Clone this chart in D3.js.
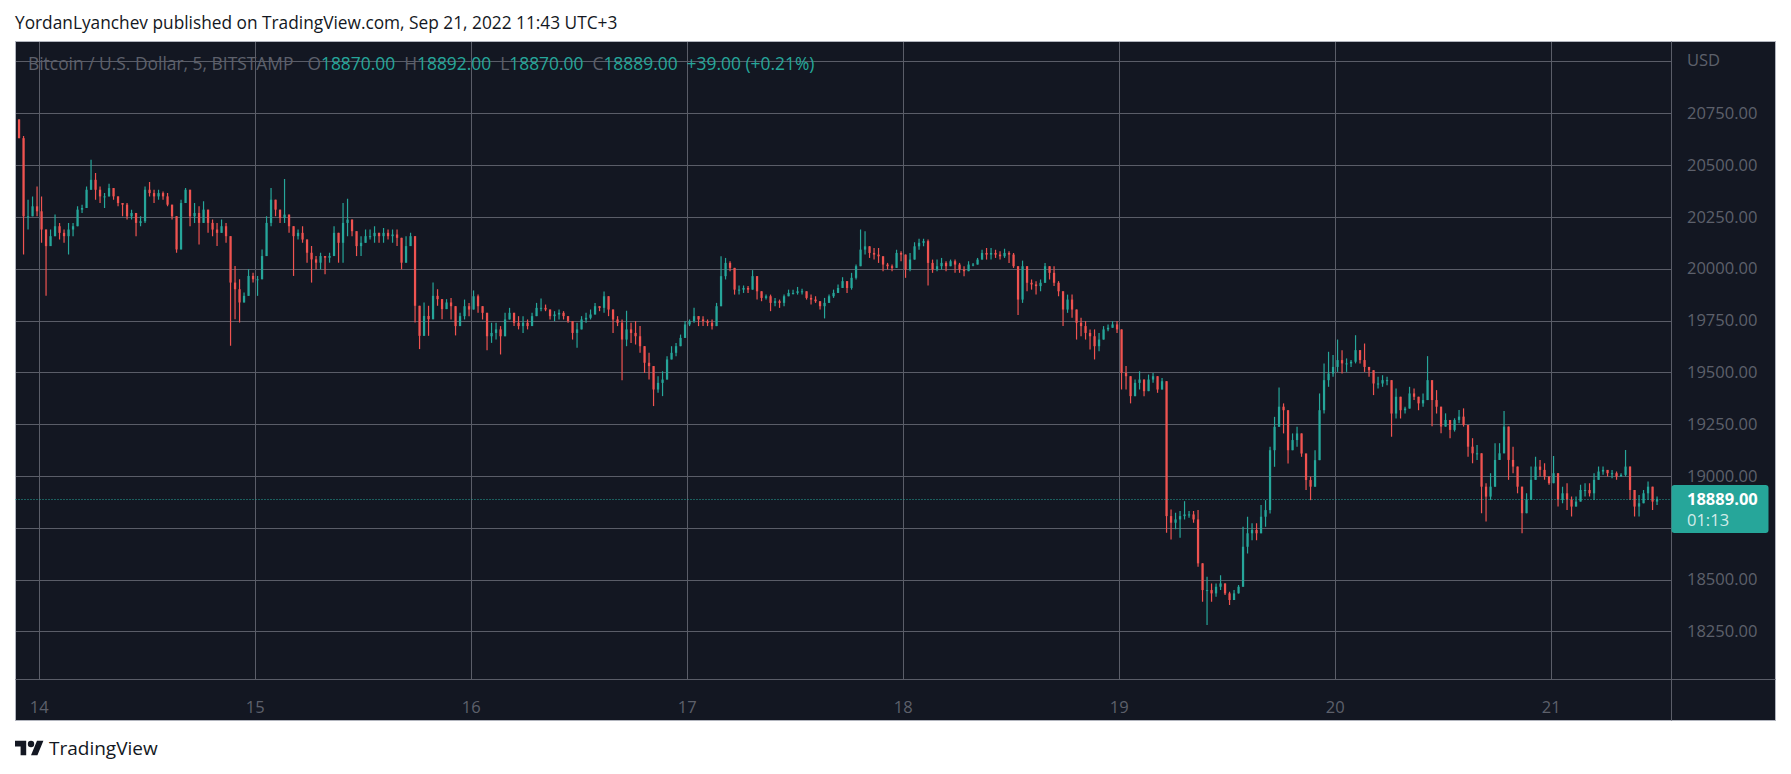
<!DOCTYPE html>
<html>
<head>
  <meta charset="utf-8">
  <title>Bitcoin / U.S. Dollar, 5, BITSTAMP</title>
  <script src="https://d3js.org/d3.v7.min.js"></script>
  <style>
    body {
      margin: 0;
      background: #ffffff;
    }
    text {
      font-family: "Open Sans", "DejaVu Sans", sans-serif;
    }
  </style>
</head>
<body>

<svg id="chart" width="1791" height="774"></svg>

<script>
  const firstOpen = 20720;

  const highs = [
    20721,20640,20333,20349,20397,20349,20173,20189,20261,20221,20189,20221,20221,20301,20309,20397,20526,20462,20397,20365,
    20410,20389,20349,20317,20317,20285,20253,20253,20397,20418,20381,20381,20373,20365,20309,20253,20333,20389,20381,20317,
    20301,20325,20269,20237,20221,20237,20221,20157,20013,19949,19885,19997,19981,19965,20093,20253,20389,20317,20285,20433,
    20253,20189,20189,20205,20125,20109,20061,20077,20061,20077,20205,20173,20317,20337,20237,20173,20157,20189,20189,20205,
    20173,20197,20189,20189,20189,20093,20157,20173,20093,19772,19837,19821,19933,19901,19837,19853,19859,19787,19787,19851,
    19835,19895,19875,19819,19755,19739,19739,19723,19787,19811,19771,19771,19771,19755,19787,19835,19856,19827,19803,19795,
    19803,19795,19771,19739,19739,19771,19787,19803,19835,19819,19890,19851,19787,19771,19755,19797,19739,19747,19723,19610,
    19594,19497,19481,19505,19578,19626,19642,19682,19747,19755,19811,19771,19771,19755,19755,19835,20060,20052,20036,19964,
    19919,19919,19916,19993,19964,19883,19875,19875,19859,19851,19875,19899,19899,19912,19903,19891,19875,19867,19843,19859,
    19875,19899,19924,19959,19940,19980,20020,20189,20181,20108,20100,20100,20052,20028,20020,20092,20084,20060,20076,20128,
    20144,20144,20141,20044,20044,20052,20036,20044,20044,20028,20012,20036,20028,20052,20092,20100,20100,20092,20084,20096,
    20084,20076,20012,20039,19996,19948,19940,19948,20028,20012,20012,19940,19867,19875,19875,19787,19763,19747,19707,19707,
    19690,19723,19731,19747,19747,19610,19530,19457,19465,19505,19449,19489,19497,19481,19473,19433,18838,18822,18830,18878,
    18830,18830,18835,18578,18513,18481,18481,18521,18481,18441,18449,18473,18755,18803,18771,18771,18859,18883,19141,19285,
    19427,19350,19205,19205,19237,19189,19004,18996,19124,19398,19543,19599,19583,19658,19607,19567,19559,19679,19591,19639,
    19526,19478,19478,19486,19478,19462,19422,19366,19334,19430,19422,19366,19398,19578,19462,19414,19318,19302,19238,19278,
    19318,19326,19238,19182,19149,19077,18965,19013,19158,19158,19313,19190,19141,19045,18884,18916,19045,19093,19077,19061,
    18981,19096,18965,18948,18965,18900,18900,18957,18965,18965,19013,19045,19045,19029,19029,19021,19013,19125,19045,18916,
    18908,18932,18973,18908,18900
  ];

  const lows = [
    20630,20069,20189,20253,20253,20125,19869,20109,20173,20141,20125,20069,20157,20237,20269,20301,20381,20333,20317,20293,
    20349,20333,20301,20253,20237,20237,20157,20205,20221,20349,20317,20333,20333,20301,20237,20077,20109,20317,20205,20221,
    20117,20253,20173,20157,20109,20173,20125,19628,19756,19740,19837,19901,19933,19869,19965,20109,20205,20253,20221,20221,
    20173,19965,20141,20125,20029,19933,19997,19997,19973,20029,20109,20029,20029,20157,20157,20061,20061,20125,20141,20125,
    20125,20125,20141,20125,20109,19997,20061,20109,19740,19612,19708,19676,19821,19821,19756,19805,19755,19678,19739,19755,
    19771,19803,19787,19755,19607,19642,19658,19586,19690,19755,19723,19707,19690,19707,19739,19795,19795,19795,19755,19747,
    19755,19755,19739,19658,19618,19723,19739,19755,19795,19795,19787,19771,19690,19723,19462,19626,19642,19634,19594,19497,
    19465,19337,19401,19385,19514,19562,19578,19650,19674,19723,19739,19723,19723,19723,19707,19755,19940,19948,19988,19875,
    19875,19883,19883,19899,19851,19843,19851,19795,19819,19811,19819,19867,19875,19875,19875,19851,19827,19835,19803,19760,
    19851,19859,19883,19907,19883,19899,19948,20036,20068,20052,20044,20028,19988,19996,19988,20012,20036,19956,19988,20076,
    20092,20108,19919,19980,19988,19996,19988,20012,19980,19980,19964,20004,20012,20020,20044,20044,20044,20052,20044,20052,
    20028,20004,19776,19835,19891,19899,19875,19891,19948,19948,19916,19867,19723,19787,19763,19658,19674,19658,19610,19562,
    19602,19674,19698,19715,19690,19417,19417,19350,19385,19417,19385,19433,19449,19401,19441,18726,18693,18742,18702,18790,
    18798,18774,18562,18393,18280,18393,18417,18449,18425,18377,18401,18433,18465,18626,18690,18690,18739,18755,18819,19044,
    19285,19205,19060,19124,19141,19092,18932,18883,18996,19253,19301,19430,19478,19502,19494,19502,19526,19543,19543,19502,
    19478,19390,19422,19430,19438,19189,19277,19277,19301,19366,19366,19317,19334,19366,19240,19301,19206,19238,19182,19214,
    19254,19238,19093,19061,19077,18820,18780,18884,19045,19077,19109,18981,19013,18916,18723,18852,18916,18997,18997,18981,
    18957,18965,18852,18868,18836,18804,18852,18884,18900,18900,18884,18997,19005,18997,18989,18981,18997,18997,18884,18804,
    18804,18868,18884,18836,18860
  ];

  const closes = [
    20630,20253,20253,20301,20277,20189,20109,20157,20205,20173,20157,20189,20205,20285,20293,20381,20429,20381,20349,20349,
    20389,20349,20317,20309,20253,20269,20221,20229,20381,20365,20349,20365,20349,20309,20253,20093,20317,20381,20253,20269,
    20221,20285,20221,20189,20173,20205,20157,19933,19901,19837,19869,19965,19949,19949,20061,20221,20333,20285,20245,20261,
    20205,20157,20173,20141,20077,20045,20029,20061,20053,20061,20173,20125,20221,20237,20181,20109,20125,20157,20157,20173,
    20157,20173,20157,20165,20149,20029,20109,20157,19821,19676,19772,19756,19869,19853,19805,19837,19819,19723,19771,19819,
    19803,19867,19819,19787,19674,19690,19707,19674,19755,19787,19739,19723,19739,19723,19771,19811,19811,19803,19771,19779,
    19787,19771,19747,19690,19707,19755,19763,19779,19819,19811,19867,19803,19755,19739,19658,19707,19690,19674,19626,19546,
    19530,19417,19449,19465,19562,19594,19626,19666,19731,19747,19771,19755,19747,19739,19723,19819,19964,20028,20004,19899,
    19899,19907,19899,19964,19891,19859,19867,19835,19843,19835,19867,19883,19883,19891,19891,19859,19851,19843,19819,19835,
    19867,19883,19907,19940,19907,19956,20012,20092,20108,20076,20068,20060,20020,20012,20004,20076,20068,19996,20044,20108,
    20125,20133,20028,19996,20012,20028,20012,20036,20020,19996,19988,20020,20020,20044,20076,20068,20076,20068,20060,20076,
    20068,20012,19851,20012,19932,19924,19916,19932,20012,19980,19932,19891,19803,19851,19803,19739,19723,19690,19674,19626,
    19658,19707,19715,19731,19707,19497,19481,19385,19449,19465,19409,19465,19481,19417,19457,18806,18774,18790,18806,18814,
    18814,18790,18578,18449,18449,18433,18465,18481,18433,18401,18433,18465,18658,18723,18739,18723,18803,18835,19124,19237,
    19334,19317,19124,19173,19205,19108,18980,18948,19076,19317,19462,19494,19526,19559,19543,19543,19551,19607,19559,19526,
    19510,19446,19446,19462,19462,19301,19382,19317,19325,19398,19382,19350,19366,19462,19366,19334,19238,19270,19222,19270,
    19286,19246,19141,19109,19109,18948,18900,18948,19077,19109,19238,19077,19045,18948,18820,18884,18981,19045,19029,18997,
    18965,19013,18884,18916,18884,18852,18876,18932,18932,18916,18981,19021,19029,19013,19013,18997,19005,19045,18932,18852,
    18868,18916,18948,18876,18889
  ];

  const priceTicks = [18250, 18500, 18750, 19000, 19250, 19500, 19750, 20000, 20250, 20500, 20750, 21000];
  const dayTicks = [14, 15, 16, 17, 18, 19, 20, 21];

  // legend of the last 5 minute bar
  const lastBar = { open: 18870, high: 18892, low: 18870, close: 18889 };
  const lastChange = "+39.00 (+0.21%)";
  const countdown = "01:13";

  const symbolTitle = "Bitcoin / U.S. Dollar, 5, BITSTAMP";
  const headerText = "YordanLyanchev published on TradingView.com, Sep 21, 2022 11:43 UTC+3";

  const upColor = "#26a69a";
  const downColor = "#ef5350";
  const gridColor = "#5a5d68";
  const axisText = "#5d606b";

  // panel geometry
  const panel = { left: 15.5, top: 41.5, right: 1775.5, bottom: 720.5 };
  const pane = { left: 15.5, top: 41.5, right: 1671.5, bottom: 679.5 };

  const svg = d3.select("#chart");

  const x = d3.scaleUtc()
    .domain([Date.UTC(2022, 8, 14), Date.UTC(2022, 8, 21)])
    .range([39.3, 1551.3]);

  const y = d3.scaleLinear()
    .domain([18250, 20750])
    .range([631.3, 113.3]);

  const step = 30 * 60 * 1000;
  const start = Date.UTC(2022, 8, 13, 21, 30);

  const candles = closes.map((c, i) => {
    const o = i === 0 ? firstOpen : closes[i - 1];
    return {
      t: new Date(start + i * step + step / 2),
      o: o,
      h: Math.max(highs[i], o, c),
      l: Math.min(lows[i], o, c),
      c: c
    };
  });

  // header
  svg.append("text")
    .attr("x", 15)
    .attr("y", 29)
    .style("font-size", "17.3px")
    .style("fill", "#131722")
    .text(headerText);

  // chart panel
  svg.append("rect")
    .attr("x", panel.left)
    .attr("y", panel.top)
    .attr("width", panel.right - panel.left)
    .attr("height", panel.bottom - panel.top)
    .attr("fill", "#131722")
    .attr("stroke", "#b2b5be")
    .attr("stroke-width", 1);

  svg.append("clipPath")
    .attr("id", "pane-clip")
    .append("rect")
    .attr("x", pane.left)
    .attr("y", pane.top)
    .attr("width", pane.right - pane.left)
    .attr("height", pane.bottom - pane.top);

  const grid = svg.append("g")
    .attr("clip-path", "url(#pane-clip)")
    .attr("shape-rendering", "crispEdges");

  grid.selectAll(".hgrid")
    .data(priceTicks)
    .enter()
    .append("line")
    .attr("class", "hgrid")
    .attr("x1", pane.left)
    .attr("x2", pane.right)
    .attr("y1", d => Math.round(y(d)) + 0.5)
    .attr("y2", d => Math.round(y(d)) + 0.5)
    .attr("stroke", gridColor);

  grid.selectAll(".vgrid")
    .data(dayTicks)
    .enter()
    .append("line")
    .attr("class", "vgrid")
    .attr("x1", d => Math.round(x(Date.UTC(2022, 8, d))) + 0.5)
    .attr("x2", d => Math.round(x(Date.UTC(2022, 8, d))) + 0.5)
    .attr("y1", pane.top)
    .attr("y2", pane.bottom)
    .attr("stroke", gridColor);

  // separators for price and time scales
  svg.append("line")
    .attr("x1", pane.right).attr("x2", pane.right)
    .attr("y1", panel.top).attr("y2", panel.bottom)
    .attr("stroke", gridColor);

  svg.append("line")
    .attr("x1", panel.left).attr("x2", panel.right)
    .attr("y1", pane.bottom).attr("y2", pane.bottom)
    .attr("stroke", gridColor);

  // symbol legend
  const legend = svg.append("text")
    .attr("x", 28)
    .attr("y", 70)
    .style("font-size", "17.4px");

  legend.append("tspan").style("fill", axisText).text(symbolTitle);
  [["O", lastBar.open], ["H", lastBar.high], ["L", lastBar.low], ["C", lastBar.close]].forEach(([k, v], i) => {
    legend.append("tspan").attr("dx", i === 0 ? 14 : 9).style("fill", axisText).text(k);
    legend.append("tspan").style("fill", upColor).text(d3.format(".2f")(v));
  });
  legend.append("tspan").attr("dx", 9).style("fill", upColor).text(lastChange);

  // candles
  const bodyW = (x(new Date(start + step)) - x(new Date(start))) * 0.5;
  const plot = svg.append("g").attr("clip-path", "url(#pane-clip)");

  plot.selectAll(".wick")
    .data(candles)
    .enter()
    .append("line")
    .attr("class", "wick")
    .attr("x1", d => x(d.t))
    .attr("x2", d => x(d.t))
    .attr("y1", d => y(d.h))
    .attr("y2", d => y(d.l))
    .attr("stroke", d => d.c >= d.o ? upColor : downColor)
    .attr("stroke-width", 1.2);

  plot.selectAll(".body")
    .data(candles)
    .enter()
    .append("rect")
    .attr("class", "body")
    .attr("x", d => x(d.t) - bodyW / 2)
    .attr("y", d => y(Math.max(d.o, d.c)))
    .attr("width", bodyW)
    .attr("height", d => Math.max(1, Math.abs(y(d.o) - y(d.c))))
    .attr("fill", d => d.c >= d.o ? upColor : downColor);

  // last price line
  const lastY = Math.round(y(lastBar.close)) + 0.5;
  svg.append("line")
    .attr("x1", pane.left)
    .attr("x2", pane.right)
    .attr("y1", lastY)
    .attr("y2", lastY)
    .attr("stroke", upColor)
    .attr("stroke-dasharray", "1,2");

  // last price badge area; scale labels under it are hidden like on the original
  const badgeTop = y(lastBar.close) - 14;
  const badgeH = 48;

  // price scale
  const priceAxis = svg.append("g")
    .style("font-size", "16.5px")
    .style("fill", axisText);

  priceAxis.selectAll(".plabel")
    .data(priceTicks.filter(d => d <= 20750 && (y(d) < badgeTop - 8 || y(d) > badgeTop + badgeH + 8)))
    .enter()
    .append("text")
    .attr("class", "plabel")
    .attr("x", 1687)
    .attr("y", d => y(d))
    .attr("dy", "0.35em")
    .text(d => d3.format(".2f")(d));

  priceAxis.append("text")
    .attr("x", 1687)
    .attr("y", y(21000))
    .attr("dy", "0.3em")
    .text("USD");

  // time scale
  svg.append("g")
    .style("font-size", "16.5px")
    .style("fill", axisText)
    .selectAll("text")
    .data(dayTicks)
    .enter()
    .append("text")
    .attr("x", d => x(Date.UTC(2022, 8, d)))
    .attr("y", 707)
    .attr("dy", "0.35em")
    .attr("text-anchor", "middle")
    .text(d => d);

  // last price badge
  const badge = svg.append("g");
  badge.append("rect")
    .attr("x", pane.right)
    .attr("y", badgeTop)
    .attr("width", 97)
    .attr("height", badgeH)
    .attr("rx", 3)
    .attr("fill", upColor);

  badge.append("text")
    .attr("x", 1687)
    .attr("y", y(lastBar.close))
    .attr("dy", "0.35em")
    .style("font-size", "16.5px")
    .style("font-weight", "bold")
    .style("fill", "#ffffff")
    .text(d3.format(".2f")(lastBar.close));

  badge.append("text")
    .attr("x", 1687)
    .attr("y", y(lastBar.close) + 21)
    .attr("dy", "0.35em")
    .style("font-size", "16.5px")
    .style("fill", "#ffffff")
    .style("fill-opacity", 0.8)
    .text(countdown);

  // footer logo
  const logo = svg.append("g")
    .attr("transform", "translate(15,737.6) scale(0.8)")
    .attr("fill", "#131722");
  logo.append("path").attr("d", "M14 22H7V11H0V4h14v18zM28 22h-8l7.5-18h8L28 22z");
  logo.append("circle").attr("cx", 20).attr("cy", 8).attr("r", 4);

  svg.append("text")
    .attr("x", 49)
    .attr("y", 748)
    .attr("dy", "0.35em")
    .style("font-size", "19px")
    .style("fill", "#131722")
    .text("TradingView");
</script>

</body>
</html>
